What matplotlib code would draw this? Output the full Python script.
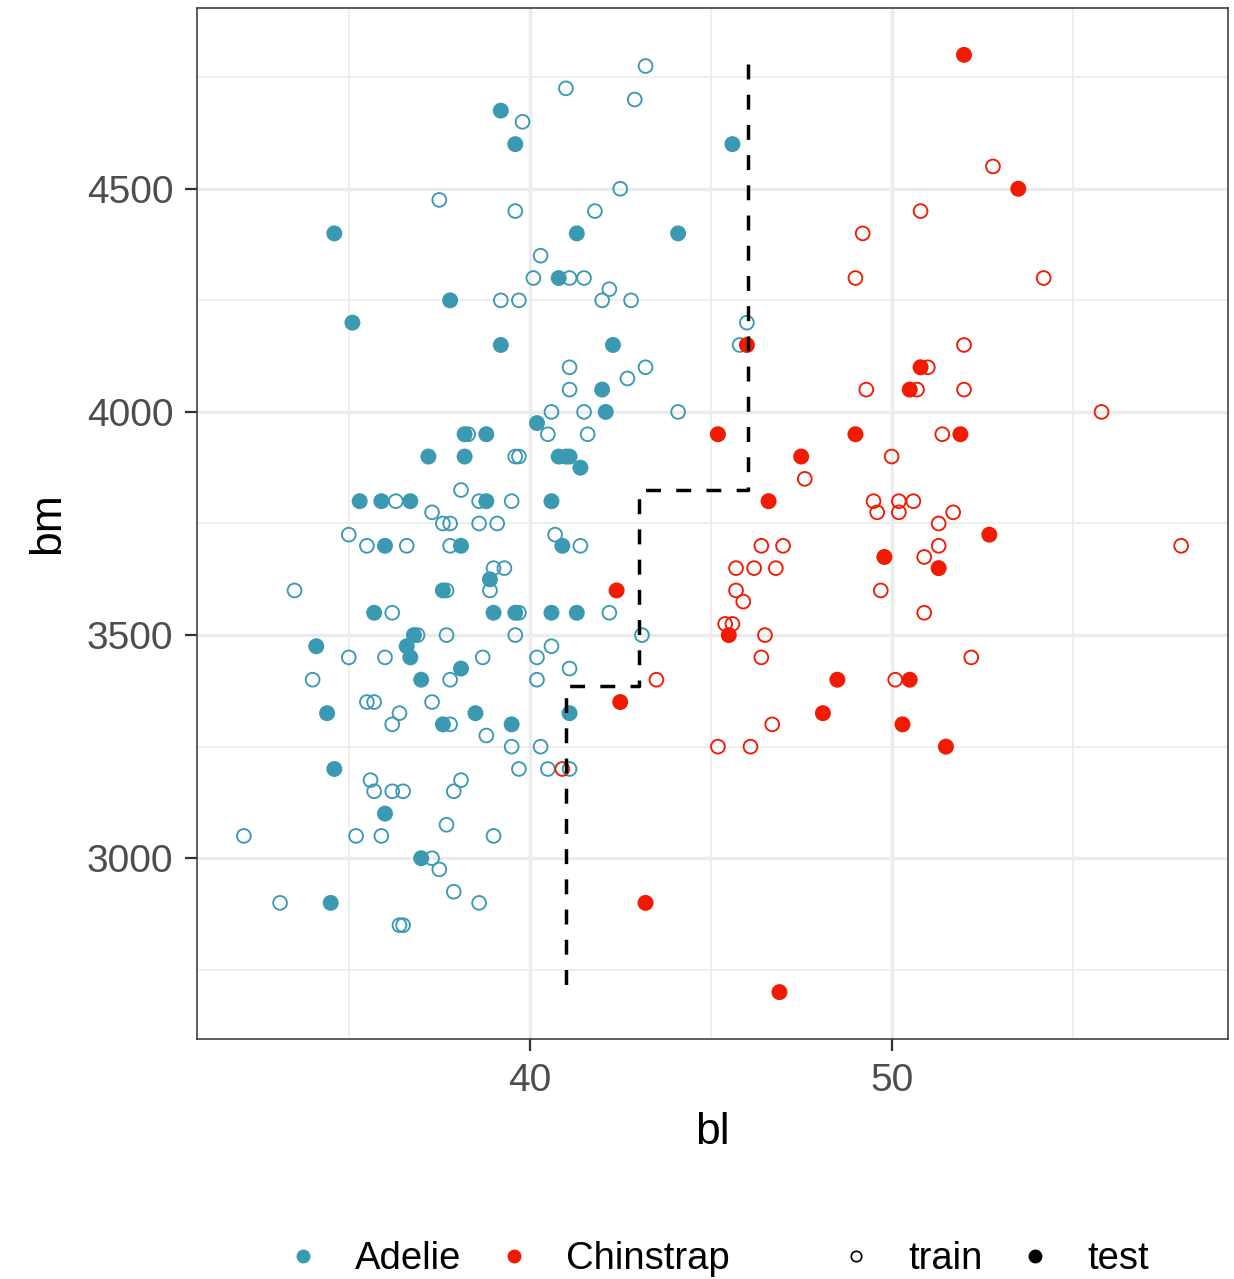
import matplotlib
matplotlib.use('Agg')
import matplotlib.pyplot as plt
from matplotlib.lines import Line2D
from matplotlib.ticker import MultipleLocator

plt.rcParams['font.family'] = ['Liberation Sans', 'DejaVu Sans']

# ---------------- data ----------------
adelie_train_bl = [43.2, 41.0, 42.9, 39.8, 42.5, 37.5, 41.8, 39.6, 40.3, 40.1, 41.1, 41.5, 42.2,
                   39.2, 39.7, 42.0, 42.8, 46.0, 45.8, 41.1, 43.2, 42.7, 41.1, 40.6, 41.5, 44.1,
                   40.5, 41.6, 38.3, 39.6, 39.7, 38.1, 36.3, 38.6, 39.5, 37.3, 37.6, 37.8, 38.6,
                   39.1, 35.0, 40.7, 35.5, 36.6, 37.8, 41.4, 39.0, 39.3, 33.5, 37.7, 38.9, 36.2,
                   39.7, 42.2, 36.9, 37.7, 39.6, 43.1, 40.6, 35.0, 36.0, 38.7, 40.2, 41.1, 34.0,
                   37.8, 40.2, 35.5, 35.7, 37.3, 36.4, 36.2, 37.8, 38.8, 39.5, 40.3, 39.7, 40.5,
                   41.1, 35.6, 38.1, 35.7, 36.2, 36.5, 37.9, 37.7, 32.1, 35.2, 35.9, 39.0, 37.3,
                   37.5, 37.9, 33.1, 38.6, 36.4, 36.5]
adelie_train_bm = [4775, 4725, 4700, 4650, 4500, 4475, 4450, 4450, 4350, 4300, 4300, 4300, 4275,
                   4250, 4250, 4250, 4250, 4200, 4150, 4100, 4100, 4075, 4050, 4000, 4000, 4000,
                   3950, 3950, 3950, 3900, 3900, 3825, 3800, 3800, 3800, 3775, 3750, 3750, 3750,
                   3750, 3725, 3725, 3700, 3700, 3700, 3700, 3650, 3650, 3600, 3600, 3600, 3550,
                   3550, 3550, 3500, 3500, 3500, 3500, 3475, 3450, 3450, 3450, 3450, 3425, 3400,
                   3400, 3400, 3350, 3350, 3350, 3325, 3300, 3300, 3275, 3250, 3250, 3200, 3200,
                   3200, 3175, 3175, 3150, 3150, 3150, 3150, 3075, 3050, 3050, 3050, 3050, 3000,
                   2975, 2925, 2900, 2900, 2850, 2850]

adelie_test_bl = [39.2, 39.6, 45.6, 34.6, 41.3, 44.1, 40.8, 37.8, 35.1, 39.2, 42.3, 42.0, 42.1,
                  40.2, 38.2, 38.8, 37.2, 38.2, 40.8, 41.0, 41.1, 41.4, 35.3, 35.9, 36.7, 38.8,
                  40.6, 36.0, 38.1, 40.9, 38.9, 37.6, 35.7, 39.0, 39.6, 40.6, 41.3, 36.8, 34.1,
                  36.6, 36.7, 38.1, 37.0, 34.4, 38.5, 41.1, 37.6, 39.5, 34.6, 36.0, 37.0, 34.5]
adelie_test_bm = [4675, 4600, 4600, 4400, 4400, 4400, 4300, 4250, 4200, 4150, 4150, 4050, 4000,
                  3975, 3950, 3950, 3900, 3900, 3900, 3900, 3900, 3875, 3800, 3800, 3800, 3800,
                  3800, 3700, 3700, 3700, 3625, 3600, 3550, 3550, 3550, 3550, 3550, 3500, 3475,
                  3475, 3450, 3425, 3400, 3325, 3325, 3325, 3300, 3300, 3200, 3100, 3000, 2900]

chinstrap_train_bl = [52.8, 50.8, 49.2, 49.0, 54.2, 52.0, 51.0, 49.3, 50.7, 52.0, 55.8, 51.4, 50.0,
                      47.6, 49.5, 50.2, 50.6, 49.6, 50.2, 51.7, 51.3, 46.4, 47.0, 51.3, 58.0, 50.9,
                      45.7, 46.2, 46.8, 45.7, 49.7, 45.9, 50.9, 45.4, 45.6, 46.5, 46.4, 52.2, 43.5,
                      50.1, 46.7, 45.2, 46.1, 40.9]
chinstrap_train_bm = [4550, 4450, 4400, 4300, 4300, 4150, 4100, 4050, 4050, 4050, 4000, 3950, 3900,
                      3850, 3800, 3800, 3800, 3775, 3775, 3775, 3750, 3700, 3700, 3700, 3700, 3675,
                      3650, 3650, 3650, 3600, 3600, 3575, 3550, 3525, 3525, 3500, 3450, 3450, 3400,
                      3400, 3300, 3250, 3250, 3200]

chinstrap_test_bl = [52.0, 53.5, 46.0, 50.8, 50.5, 45.2, 49.0, 51.9, 47.5, 46.6, 52.7, 49.8, 51.3,
                     42.4, 45.5, 48.5, 50.5, 42.5, 48.1, 50.3, 51.5, 43.2, 46.9]
chinstrap_test_bm = [4800, 4500, 4150, 4100, 4050, 3950, 3950, 3950, 3900, 3800, 3725, 3675, 3650,
                     3600, 3500, 3400, 3400, 3350, 3325, 3300, 3250, 2900, 2700]

# decision boundary (step path)
boundary_bl = [46.02, 46.02, 43.02, 43.02, 40.99, 40.99]
boundary_bm = [4780, 3824, 3824, 3385, 3385, 2700]

species_labels = ['Adelie', 'Chinstrap']
set_labels = ['train', 'test']
species_colors = ['#3B9AB2', '#F21A00']

# ---------------- figure ----------------
W, H = 1234, 1279
fig = plt.figure(figsize=(W / 100, H / 100), dpi=100)
ax = fig.add_axes([197 / W, 1 - 1039 / H, 1031 / W, 1031 / H])

grid_col = '#EBEBEB'
ax.set_axisbelow(True)
ax.xaxis.set_major_locator(MultipleLocator(10))
ax.xaxis.set_minor_locator(MultipleLocator(5))
ax.yaxis.set_major_locator(MultipleLocator(500))
ax.yaxis.set_minor_locator(MultipleLocator(250))
ax.grid(which='major', color=grid_col, linewidth=2.4)
ax.grid(which='minor', color=grid_col, linewidth=1.2)

trains = [(adelie_train_bl, adelie_train_bm), (chinstrap_train_bl, chinstrap_train_bm)]
tests = [(adelie_test_bl, adelie_test_bm), (chinstrap_test_bl, chinstrap_test_bm)]

for (bl, bm), col in zip(trains, species_colors):
    ax.scatter(bl, bm, s=98, facecolors='none', edgecolors=col, linewidths=1.35, zorder=3)
for (bl, bm), col in zip(tests, species_colors):
    ax.scatter(bl, bm, s=132, facecolors=col, edgecolors='none', zorder=4)

ax.plot(boundary_bl, boundary_bm, color='black', linewidth=2.5, dashes=(4.3, 4.4), zorder=5)

xmin, xmax = 32.1, 58.0
ymin, ymax = 2700, 4800
ax.set_xlim(xmin - 0.05 * (xmax - xmin), xmax + 0.05 * (xmax - xmin))
ax.set_ylim(ymin - 0.05 * (ymax - ymin), ymax + 0.05 * (ymax - ymin))

for s in ax.spines.values():
    s.set_color('#333333')
    s.set_linewidth(1.1)

ax.tick_params(which='major', direction='out', length=8.5, width=1.6, color='#333333',
               labelsize=28, labelcolor='#4D4D4D', pad=8.5)
ax.tick_params(axis='x', which='major', pad=8.5)
ax.tick_params(which='minor', length=0)

ax.set_xlabel('bl', fontsize=32, color='black', va='center')
ax.set_ylabel('bm', fontsize=32, color='black', va='center')
ax.xaxis.set_label_coords(0.5, -(1132 - 1039) / 1031)
ax.yaxis.set_label_coords(-(197 - 48) / 1031, 0.5)

# legends
fs = 27.5
sp_handles = [Line2D([], [], ls='none', marker='o', ms=9, mfc=c, mec=c) for c in species_colors]
leg1 = fig.legend(sp_handles, species_labels, loc='center left',
                  bbox_to_anchor=(284 / W, 1 - 1259 / H), ncol=2, frameon=False, fontsize=fs,
                  handlelength=1.0, handletextpad=0.86, columnspacing=0.88,
                  borderpad=0, borderaxespad=0)
set_handles = [Line2D([], [], ls='none', marker='o', ms=7.5, mfc='white', mec='black', mew=1.2),
               Line2D([], [], ls='none', marker='o', ms=9, mfc='black', mec='black')]
leg2 = fig.legend(set_handles, set_labels, loc='center left',
                  bbox_to_anchor=(837 / W, 1 - 1259 / H), ncol=2, frameon=False, fontsize=fs,
                  handlelength=1.0, handletextpad=0.86, columnspacing=0.88,
                  borderpad=0, borderaxespad=0)

fig.savefig('out.png', dpi=100, facecolor='white')
